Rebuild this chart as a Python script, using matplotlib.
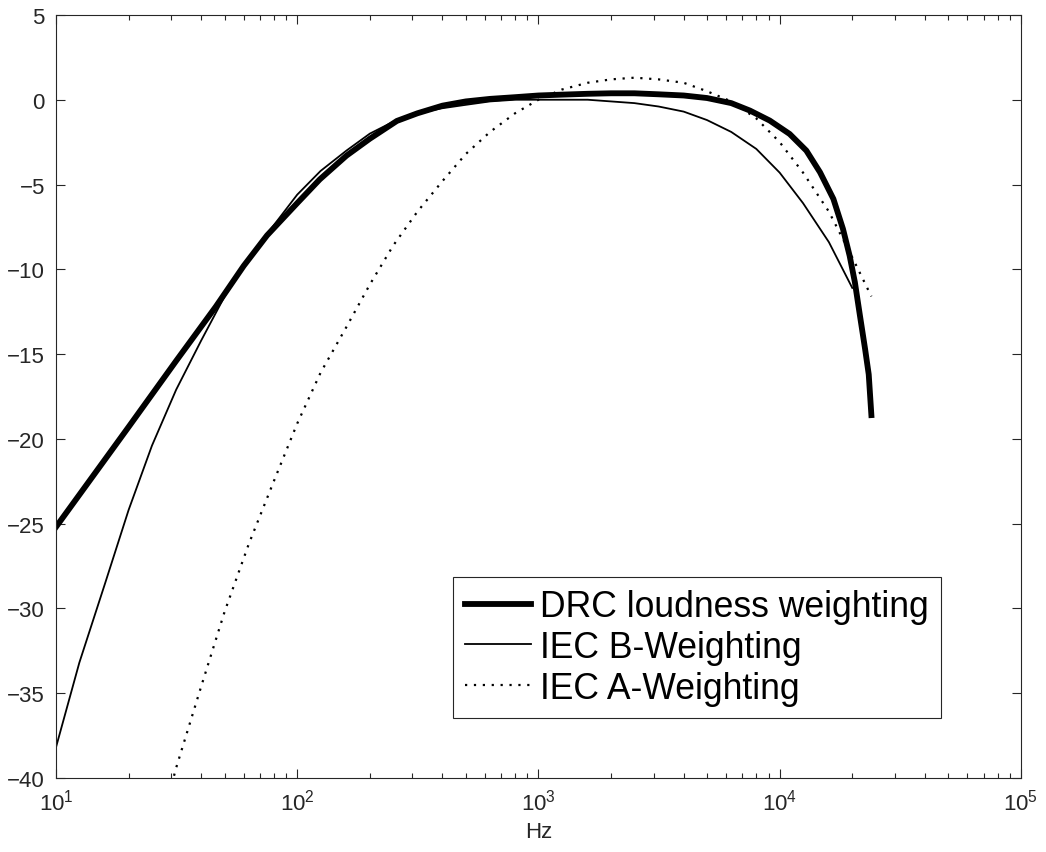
import numpy as np
import matplotlib
matplotlib.use('Agg')
import matplotlib.pyplot as plt

# Fonte parecida com a do MATLAB
plt.rcParams['font.family'] = ['Liberation Sans', 'DejaVu Sans']

# Curva de ponderacao do DRC
drc_f = [10, 20, 31.5, 46, 60, 75, 100, 124, 160, 200, 259, 315, 400, 500, 630,
         800, 1000, 1250, 1600, 2000, 2500, 3150, 4000, 5000, 6300, 7530, 9100,
         11000, 12900, 14700, 16700, 18300, 19500, 20500, 21500, 22600, 23400, 24000]
drc_db = [-25.2, -19.3, -15.4, -12.2, -9.8, -8.0, -6.1, -4.7, -3.3, -2.3, -1.25, -0.8,
          -0.35, -0.1, 0.05, 0.15, 0.25, 0.3, 0.35, 0.38, 0.38, 0.32, 0.25, 0.1, -0.2,
          -0.64, -1.23, -2.02, -3.0, -4.28, -5.85, -7.62, -9.2, -10.76, -12.7, -14.7,
          -16.2, -18.6]

# Ponderacao B (bandas de 1/3 de oitava)
b_f = [10, 12.5, 16, 20, 25, 31.5, 40, 50, 63, 80, 100, 125, 160, 200, 250, 315, 400,
       500, 630, 800, 1000, 1250, 1600, 2000, 2500, 3150, 4000, 5000, 6300, 8000,
       10000, 12500, 16000, 20000]
b_db = [-38.2, -33.2, -28.5, -24.2, -20.4, -17.1, -14.2, -11.6, -9.3, -7.4, -5.6, -4.2,
        -3.0, -2.0, -1.3, -0.8, -0.5, -0.3, -0.1, 0.0, 0.0, 0.0, 0.0, -0.1, -0.2, -0.4,
        -0.7, -1.2, -1.9, -2.9, -4.3, -6.1, -8.4, -11.1]

# Ponderacao A
a_f = [25, 31.5, 40, 50, 63, 80, 100, 125, 160, 200, 250, 315, 400, 500, 630, 800,
       1000, 1250, 1600, 2000, 2500, 3150, 4000, 5000, 6300, 8000, 10000, 12500,
       16000, 20000, 24000]
a_db = [-44.7, -39.4, -34.6, -30.2, -26.2, -22.5, -19.1, -16.1, -13.4, -10.9, -8.6,
        -6.6, -4.8, -3.2, -1.9, -0.8, 0.0, 0.6, 1.0, 1.2, 1.3, 1.2, 1.0, 0.5, -0.1,
        -1.1, -2.5, -4.3, -6.6, -9.3, -11.6]

fig = plt.figure(figsize=(10.46, 8.53), dpi=100)
ax = fig.add_axes([0.0535, 0.0868, 0.9225, 0.8945])

ax.semilogx(drc_f, drc_db, color='black', lw=4.2, label='DRC loudness weighting')
ax.semilogx(b_f, b_db, color='black', lw=1.3, label='IEC B-Weighting')
ax.semilogx(a_f, a_db, color='black', lw=1.6, linestyle=(0, (1, 3)),
            label='IEC A-Weighting')

ax.set_xlim(10, 1e5)
ax.set_ylim(-40, 5)
ax.set_yticks(np.arange(-40, 6, 5))
ax.set_xlabel('Hz', fontsize=16, color='#262626', labelpad=4)

# Eixos no estilo MATLAB
gray = '#262626'
for s in ax.spines.values():
    s.set_color(gray)
    s.set_linewidth(0.8)
ax.tick_params(which='both', direction='in', top=True, right=True, colors=gray,
               labelsize=16, pad=8)
ax.tick_params(which='major', length=6.5, width=0.8)
ax.tick_params(which='minor', length=3.5, width=0.8)

leg = ax.legend(loc='lower right', bbox_to_anchor=(0.917, 0.0786), borderaxespad=0,
                fontsize=25.6, fancybox=False, framealpha=1, edgecolor=gray,
                handlelength=1.86, handletextpad=0.23, labelspacing=0.16,
                borderpad=0.35)
leg.get_frame().set_linewidth(0.8)

fig.savefig('out.png', dpi=100)
